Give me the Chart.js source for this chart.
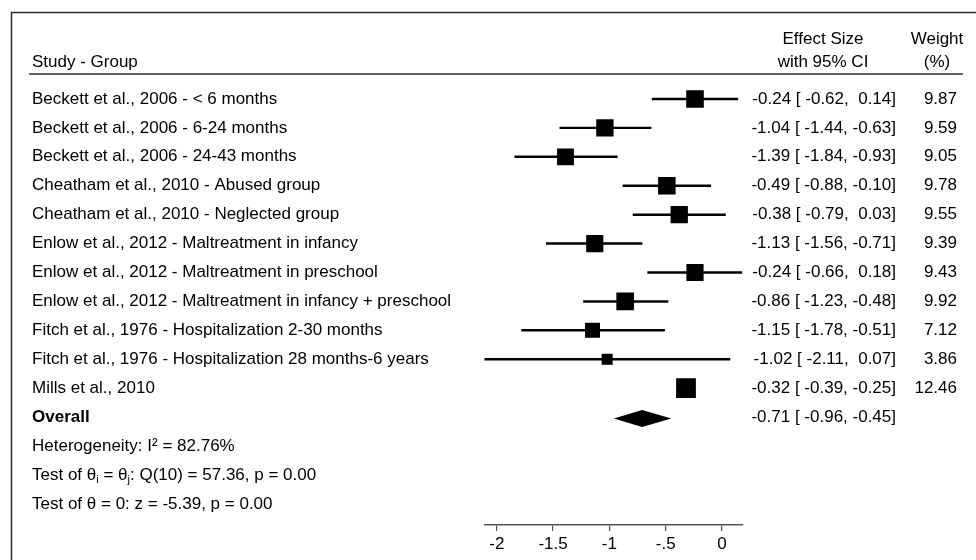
<!DOCTYPE html>
<html lang="en">
<head>
  <meta charset="UTF-8">
  <title>Forest plot - Effect sizes</title>
  <script src="https://cdn.jsdelivr.net/npm/chart.js"></script>
</head>
<body style="margin:0; background:#fff;">

  <canvas id="forest" width="976" height="560"></canvas>

  <script>
    // DATA
    const studies = [
      'Beckett et al., 2006 - < 6 months',
      'Beckett et al., 2006 - 6-24 months',
      'Beckett et al., 2006 - 24-43 months',
      'Cheatham et al., 2010 - Abused group',
      'Cheatham et al., 2010 - Neglected group',
      'Enlow et al., 2012 - Maltreatment in infancy',
      'Enlow et al., 2012 - Maltreatment in preschool',
      'Enlow et al., 2012 - Maltreatment in infancy + preschool',
      'Fitch et al., 1976 - Hospitalization 2-30 months',
      'Fitch et al., 1976 - Hospitalization 28 months-6 years',
      'Mills et al., 2010'
    ];
    const effect = [-0.24, -1.04, -1.39, -0.49, -0.38, -1.13, -0.24, -0.86, -1.15, -1.02, -0.32];
    const ciLow  = [-0.62, -1.44, -1.84, -0.88, -0.79, -1.56, -0.66, -1.23, -1.78, -2.11, -0.39];
    const ciHigh = [ 0.14, -0.63, -0.93, -0.10,  0.03, -0.71,  0.18, -0.48, -0.51,  0.07, -0.25];
    const weights = [9.87, 9.59, 9.05, 9.78, 9.55, 9.39, 9.43, 9.92, 7.12, 3.86, 12.46];

    const overallLabel = 'Overall';
    const overallEffect = [-0.71];
    const overallLow = [-0.96];
    const overallHigh = [-0.45];

    // "_x" marks a subscript character
    const statLines = [
      'Heterogeneity: I\u00b2 = 82.76%',
      'Test of \u03b8_i = \u03b8_j: Q(10) = 57.36, p = 0.00',
      'Test of \u03b8 = 0: z = -5.39, p = 0.00'
    ];

    const tickValues = [-2, -1.5, -1, -0.5, 0];
    const tickLabels = ['-2', '-1.5', '-1', '-.5', '0'];

    const headLeft = 'Study - Group';
    const headEffect = ['Effect Size', 'with 95% CI'];
    const headWeight = ['Weight', '(%)'];

    // STYLE
    const FONT = '17px "Liberation Sans", Arial, Helvetica, sans-serif';
    const FONT_BOLD = 'bold 17px "Liberation Sans", Arial, Helvetica, sans-serif';
    const FONT_SUB = '11px "Liberation Sans", Arial, Helvetica, sans-serif';
    const INK = '#000';

    const overallRow = studies.length;
    const fmt = v => (v < 0 ? '' : ' ') + v.toFixed(2);
    const ciText = i => effect[i].toFixed(2) + ' [ ' + fmt(ciLow[i]) + ', ' + fmt(ciHigh[i]) + ']';
    const overallText = overallEffect[0].toFixed(2) + ' [ ' + fmt(overallLow[0]) + ', ' + fmt(overallHigh[0]) + ']';

    // square side grows with sqrt(weight), rect point side = radius * sqrt(2)
    const squareRadius = weights.map(w => 5.6 * Math.sqrt(w) / Math.SQRT2);

    function drawRich(ctx, text, x, y) {
      const parts = text.split(/_(\w)/);
      parts.forEach((p, k) => {
        if (k % 2 === 1) {
          ctx.font = FONT_SUB;
          ctx.fillText(p, x, y + 5);
        } else {
          ctx.font = FONT;
          ctx.fillText(p, x, y);
        }
        x += ctx.measureText(p).width;
      });
      ctx.font = FONT;
    }

    // TABLE TEXT, FRAME AND DIAMOND
    const tablePlugin = {
      id: 'forestTable',
      afterDatasetsDraw(chart) {
        const ctx = chart.ctx;
        const xs = chart.scales.x, ys = chart.scales.y;
        const y = ys.getPixelForValue(overallRow) + 1.5;
        const h = 8.5;
        ctx.save();
        ctx.fillStyle = '#000';
        ctx.beginPath();
        ctx.moveTo(xs.getPixelForValue(overallLow[0]), y);
        ctx.lineTo(xs.getPixelForValue(overallEffect[0]), y - h);
        ctx.lineTo(xs.getPixelForValue(overallHigh[0]), y);
        ctx.lineTo(xs.getPixelForValue(overallEffect[0]), y + h);
        ctx.closePath();
        ctx.fill();
        ctx.restore();
      },
      afterDraw(chart) {
        const ctx = chart.ctx;
        const ys = chart.scales.y;
        const rowY = r => ys.getPixelForValue(r);
        ctx.save();

        // frame + rule under header
        ctx.strokeStyle = '#2a2a2a';
        ctx.lineWidth = 1.5;
        ctx.beginPath();
        ctx.moveTo(11.5, 560); ctx.lineTo(11.5, 12.5); ctx.lineTo(976, 12.5);
        ctx.stroke();
        ctx.beginPath();
        ctx.moveTo(29, rowY(-0.86)); ctx.lineTo(963, rowY(-0.86));
        ctx.stroke();

        ctx.fillStyle = INK;
        ctx.textBaseline = 'middle';
        ctx.font = FONT;

        // headers
        ctx.textAlign = 'left';
        ctx.fillText(headLeft, 32, rowY(-1.25));
        ctx.textAlign = 'center';
        ctx.fillText(headEffect[0], 823, rowY(-2.05));
        ctx.fillText(headEffect[1], 823, rowY(-1.25));
        ctx.fillText(headWeight[0], 937, rowY(-2.05));
        ctx.fillText(headWeight[1], 937, rowY(-1.25));

        // study rows
        studies.forEach((s, i) => {
          const yy = rowY(i);
          ctx.textAlign = 'left';
          ctx.fillText(s, 32, yy);
          ctx.textAlign = 'right';
          ctx.fillText(ciText(i), 896, yy);
          ctx.fillText(weights[i].toFixed(2), 957, yy);
        });

        // overall
        ctx.textAlign = 'left';
        ctx.font = FONT_BOLD;
        ctx.fillText(overallLabel, 32, rowY(overallRow));
        ctx.font = FONT;
        ctx.textAlign = 'right';
        ctx.fillText(overallText, 896, rowY(overallRow));

        // heterogeneity and tests
        ctx.textAlign = 'left';
        statLines.forEach((t, k) => drawRich(ctx, t, 32, rowY(overallRow + 1 + k)));

        ctx.restore();
      }
    };

    const rows = studies.map((s, i) => i);

    new Chart(document.getElementById('forest').getContext('2d'), {
      type: 'bar',
      data: {
        datasets: [
          {
            type: 'bar',
            indexAxis: 'y',
            data: rows.map(i => ({ y: i, x: [ciLow[i], ciHigh[i]] })),
            backgroundColor: '#000',
            borderWidth: 0,
            barThickness: 1.8
          },
          {
            type: 'scatter',
            data: rows.map(i => ({ x: effect[i], y: i })),
            pointStyle: 'rect',
            pointRadius: squareRadius,
            pointBackgroundColor: '#000',
            pointBorderWidth: 0,
            pointHoverRadius: squareRadius
          }
        ]
      },
      options: {
        responsive: false,
        animation: false,
        events: [],
        layout: { padding: { top: 81.6, left: 484.4, right: 233.7, bottom: 0 } },
        plugins: {
          legend: { display: false },
          tooltip: { enabled: false }
        },
        scales: {
          x: {
            type: 'linear',
            offset: false,
            min: Math.min(...ciLow),
            max: Math.max(...ciHigh),
            afterBuildTicks: scale => { scale.ticks = tickValues.map(v => ({ value: v })); },
            afterFit: scale => { scale.height = 35; },
            grid: { offset: false, drawOnChartArea: false, drawTicks: true, tickLength: 6, color: '#555', lineWidth: 1.2 },
            border: { display: true, color: '#555', width: 1.5 },
            ticks: {
              padding: 3,
              color: '#000',
              font: { family: '"Liberation Sans", Arial, Helvetica, sans-serif', size: 17 },
              callback: (v, idx) => tickLabels[idx]
            }
          },
          y: {
            type: 'linear',
            offset: false,
            grid: { offset: false },
            reverse: true,
            min: -0.6,
            max: 14.73,
            display: false
          }
        }
      },
      plugins: [tablePlugin]
    });
  </script>

</body>
</html>
